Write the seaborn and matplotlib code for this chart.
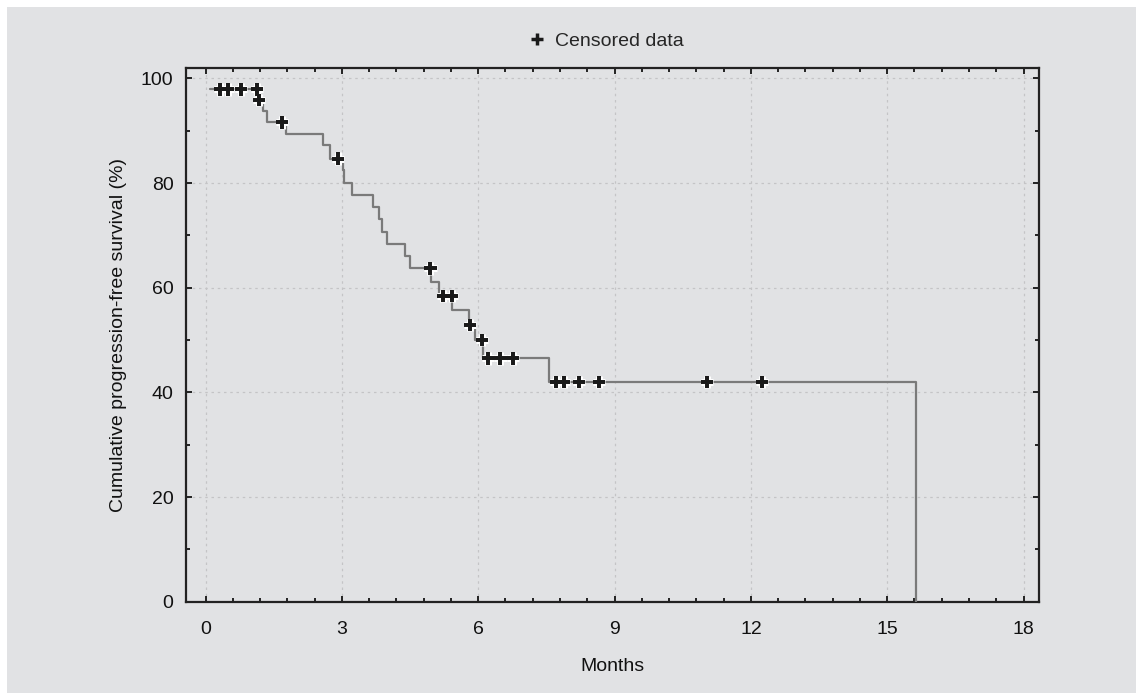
import matplotlib
matplotlib.use("Agg")
import matplotlib.pyplot as plt
import matplotlib.patheffects as pe
from matplotlib.lines import Line2D
from matplotlib.patches import Rectangle
from matplotlib.ticker import MultipleLocator
import seaborn as sns

# Kaplan-Meier step curve (time of each step, survival level after the step)
step_months = [0.10, 1.17, 1.26, 1.36, 1.76, 2.59, 2.74, 3.03, 3.05, 3.22, 3.69, 3.82,
               3.88, 3.99, 4.40, 4.49, 4.96, 5.14, 5.43, 5.80, 5.93, 6.10, 7.56, 15.63]
step_surv = [97.9, 95.9, 93.8, 91.6, 89.4, 87.2, 84.7, 82.5, 80.1, 77.8, 75.5, 73.1,
             70.7, 68.4, 66.1, 63.7, 61.1, 58.4, 55.8, 52.9, 50.0, 46.5, 42.0, 0.0]

# censored observations
censor_months = [0.32, 0.50, 0.78, 1.13, 1.18, 1.68, 2.92, 4.95, 5.23, 5.42, 5.82,
                 6.08, 6.21, 6.49, 6.77, 7.72, 7.89, 8.22, 8.66, 11.04, 12.24]
censor_surv = [97.9, 97.9, 97.9, 97.9, 95.9, 91.6, 84.7, 63.7, 58.4, 58.4, 52.9,
               50.0, 46.5, 46.5, 46.5, 42.0, 42.0, 42.0, 42.0, 42.0, 42.0]

x_ticks = [0, 3, 6, 9, 12, 15, 18]
y_ticks = [0, 20, 40, 60, 80, 100]

BG = "#e1e2e4"

sns.set_theme(style="ticks")
plt.rcParams["font.family"] = ["Liberation Sans", "DejaVu Sans"]

fig = plt.figure(figsize=(11.36, 6.93), dpi=100, facecolor="white")
# grey panel with a thin white margin on the top and left edges
fig.patches.append(Rectangle((7 / 1136, 0), 1, 1 - 7 / 693, transform=fig.transFigure,
                             facecolor=BG, edgecolor="none", zorder=-10))
ax = fig.add_axes([186 / 1136, 1 - 601.7 / 693, (1039 - 186) / 1136, (601.7 - 68) / 693])
ax.set_facecolor(BG)

sns.lineplot(x=step_months, y=step_surv, drawstyle="steps-post", estimator=None,
             sort=False, color="#7a7a7a", linewidth=1.6, ax=ax, zorder=3)
sns.scatterplot(x=censor_months, y=censor_surv, marker="+", s=80, color="#1a1a1a",
                linewidth=2.7, ax=ax, zorder=4)
ax.collections[-1].set_path_effects([pe.withStroke(linewidth=5, foreground="white"),
                                     pe.Normal()])

ax.set_xlim(-0.43, 18.34)
ax.set_ylim(0, 102)
ax.set_xticks(x_ticks)
ax.set_yticks(y_ticks)
ax.xaxis.set_minor_locator(MultipleLocator(0.6))
ax.yaxis.set_minor_locator(MultipleLocator(10))
ax.tick_params(which="both", direction="in", top=True, right=True, colors="#222222",
               labelsize=14, labelcolor="#111111", width=1.4)
ax.tick_params(which="major", length=4)
ax.tick_params(which="minor", length=3)
ax.tick_params(axis="x", which="major", pad=14)
ax.tick_params(axis="y", which="major", pad=9)
ax.grid(True, which="major", linestyle=(0, (2, 3)), color="#c4c4c6", linewidth=0.9)
for sp in ax.spines.values():
    sp.set_color("#222222")
    sp.set_linewidth(1.6)

ax.set_xlabel("Months", fontsize=14, color="#111111", labelpad=14)
ax.set_ylabel("Cumulative progression-free survival (%)", fontsize=14,
              color="#111111", labelpad=10)

handle = Line2D([], [], linestyle="none", marker="+", color="#1a1a1a",
                markersize=8, markeredgewidth=2.5)
fig.legend([handle], ["Censored data"], loc="center", bbox_to_anchor=(0.533, 1 - 41 / 693),
           frameon=False, fontsize=14, handletextpad=0.4, handlelength=1.0)

fig.savefig("out.png", dpi=100, facecolor=fig.get_facecolor())
